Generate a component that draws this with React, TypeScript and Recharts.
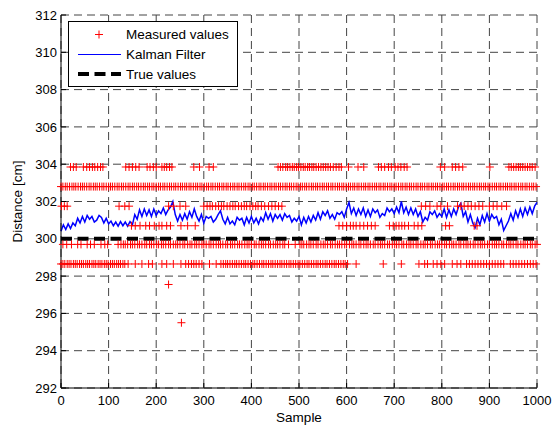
import { CartesianGrid, ComposedChart, Line, Scatter, XAxis, YAxis } from "recharts";

const FONT = '"Liberation Sans", Arial, Helvetica, sans-serif';

const xTicks = [0, 100, 200, 300, 400, 500, 600, 700, 800, 900, 1000];
const yTicks = [292, 294, 296, 298, 300, 302, 304, 306, 308, 310, 312];

// measured values are quantised, one list of sample numbers per level
const level303 = 303.85;
const samples303 = [
  20, 26, 32, 47, 54, 60, 66, 71, 77, 83, 88, 136, 143, 150, 157, 164, 181, 187, 194, 200, 212, 217,
  222, 228, 233, 279, 291, 311, 320, 456, 461, 466, 472, 476, 481, 486, 490, 495, 499, 504, 509, 513,
  518, 522, 527, 531, 536, 541, 546, 551, 556, 561, 566, 572, 578, 584, 589, 604, 624, 636, 667, 673,
  680, 688, 694, 702, 708, 714, 721, 727, 797, 806, 822, 829, 836, 844, 901, 941, 946, 951, 956, 961,
  965, 970, 975, 980, 985, 990, 996,
];

const level302 = 302.8;
const samples302 = [
  0, 4, 9, 13, 18, 23, 27, 31, 36, 41, 45, 49, 54, 59, 63, 68, 72, 76, 81, 86, 90, 95, 100, 104, 108,
  113, 118, 122, 127, 131, 136, 141, 145, 150, 154, 159, 163, 168, 173, 177, 182, 186, 191, 195, 200,
  205, 209, 214, 218, 223, 228, 232, 237, 241, 246, 251, 255, 260, 264, 269, 273, 278, 283, 287, 292,
  296, 301, 306, 310, 315, 319, 324, 329, 333, 338, 342, 347, 351, 356, 361, 365, 370, 374, 379, 384,
  388, 393, 397, 402, 406, 411, 416, 420, 425, 429, 434, 439, 443, 448, 452, 457, 461, 466, 471, 475,
  480, 484, 489, 494, 498, 503, 507, 512, 516, 521, 526, 530, 535, 539, 544, 549, 553, 558, 562, 567,
  571, 576, 581, 585, 590, 594, 599, 604, 608, 613, 617, 622, 626, 631, 636, 640, 645, 649, 654, 659,
  663, 668, 672, 677, 681, 686, 691, 695, 700, 704, 709, 714, 718, 723, 727, 732, 736, 741, 746, 750,
  755, 759, 764, 769, 773, 778, 782, 787, 791, 796, 801, 805, 810, 814, 819, 824, 828, 833, 837, 842,
  846, 851, 856, 860, 865, 869, 874, 879, 883, 888, 892, 897, 901, 906, 911, 915, 920, 924, 929, 934,
  938, 943, 947, 952, 956, 961, 966, 970, 975, 979, 984, 989, 993, 998,
];

const level301 = 301.75;
const samples301 = [
  1, 7, 13, 122, 134, 143, 226, 236, 250, 262, 300, 307, 313, 318, 325, 331, 337, 342, 349, 355, 361,
  366, 373, 379, 385, 390, 397, 403, 409, 414, 421, 428, 436, 443, 450, 457, 464, 757, 766, 775, 790,
  798, 812, 833, 840, 847, 855, 862, 870, 878, 886, 900, 908, 916, 926, 936,
];

const level300 = 300.7;
const samples300 = [
  148, 156, 166, 178, 186, 196, 206, 212, 222, 230, 252, 266, 282, 584, 592, 600, 608, 614, 620, 628,
  636, 644, 652, 660, 690, 698, 704, 710, 716, 722, 730, 742, 750, 758, 808, 816, 868, 874,
];

const level299 = 299.7;
const samples299 = [
  4, 12, 22, 35, 42, 55, 62, 70, 84, 92, 98, 120, 126, 131, 135, 140, 146, 150, 155, 161, 165, 170,
  176, 180, 186, 190, 195, 201, 205, 211, 215, 220, 226, 230, 236, 241, 245, 250, 256, 260, 266, 271,
  275, 281, 285, 290, 296, 300, 305, 311, 315, 320, 326, 331, 335, 340, 346, 350, 356, 360, 365, 371,
  375, 380, 386, 391, 395, 400, 406, 410, 416, 421, 425, 430, 436, 440, 446, 451, 455, 460, 466, 470,
  478, 492, 502, 506, 510, 516, 521, 525, 530, 536, 540, 546, 551, 555, 560, 566, 570, 576, 581, 585,
  590, 596, 600, 606, 611, 615, 620, 626, 630, 636, 641, 645, 650, 656, 660, 666, 671, 675, 680, 686,
  690, 696, 701, 705, 710, 716, 720, 726, 731, 735, 740, 746, 750, 756, 761, 765, 770, 776, 780, 786,
  791, 795, 800, 806, 810, 816, 821, 825, 830, 836, 840, 846, 851, 855, 860, 866, 870, 876, 881, 885,
  890, 896, 900, 906, 911, 915, 920, 926, 930, 936, 941, 945, 950, 956, 960, 966, 971, 975, 980, 986,
  990, 996, 1000,
];

const level298 = 298.65;
const samples298 = [
  0, 4, 8, 13, 17, 21, 26, 30, 34, 39, 43, 47, 52, 56, 60, 65, 69, 73, 78, 82, 86, 91, 95, 99, 104,
  108, 112, 117, 121, 125, 130, 134, 141, 156, 170, 184, 192, 212, 222, 236, 252, 262, 268, 274, 279,
  284, 290, 296, 312, 326, 336, 341, 346, 350, 355, 360, 365, 369, 374, 379, 384, 388, 393, 398, 403,
  407, 412, 417, 422, 426, 431, 436, 441, 445, 450, 455, 460, 464, 469, 474, 479, 483, 488, 493, 498,
  502, 507, 512, 517, 521, 526, 531, 536, 540, 545, 550, 555, 559, 564, 569, 574, 578, 583, 588, 593,
  597, 602, 620, 677, 715, 752, 764, 770, 782, 790, 798, 806, 822, 832, 840, 852, 858, 864, 870, 876,
  882, 888, 894, 900, 906, 912, 918, 924, 930, 944, 950, 956, 962, 968, 974, 980, 986, 992, 998,
];

const outlierSamples = [226, 253];
const outlierValues = [297.55, 295.5];

// Kalman estimate, read every 5 samples
const kalmanStep = 5;
const kalmanValues = [
  300.4, 300.75, 300.5, 300.8, 300.55, 300.85, 300.7, 301.1, 300.85, 301.2,
  300.9, 301.25, 301.05, 301.2, 300.9, 301.0, 301.25, 301.15, 300.85, 301.1,
  300.8, 300.95, 300.7, 300.9, 300.68, 300.92, 300.7, 300.9, 300.68, 300.92,
  300.75, 301.3, 301.05, 301.55, 301.2, 301.6, 301.25, 301.55, 301.2, 301.6,
  301.25, 301.5, 301.35, 301.65, 301.3, 301.55, 301.7, 302.0, 301.3, 300.95,
  301.3, 301.0, 301.35, 301.05, 301.45, 301.15, 301.6, 301.2, 300.95, 301.3,
  300.85, 301.2, 301.1, 301.2, 300.9, 301.05, 301.3, 301.5, 301.05, 300.8,
  301.15, 300.8, 300.95, 300.75, 301.15, 301.0, 301.1, 300.75, 301.15, 300.85,
  301.2, 300.85, 301.1, 300.8, 301.15, 300.95, 301.4, 301.05, 301.35, 300.95,
  301.3, 301.1, 301.3, 301.0, 301.35, 301.15, 301.25, 300.9, 301.1, 300.95,
  301.2, 300.75, 301.15, 300.85, 301.2, 300.9, 301.25, 301.0, 301.4, 301.05,
  301.45, 301.25, 301.5, 301.1, 301.3, 301.05, 301.4, 301.3, 301.45, 301.15,
  301.6, 301.95, 301.35, 301.65, 301.25, 301.6, 301.3, 301.65, 301.2, 301.55,
  301.2, 301.6, 301.4, 301.55, 301.15, 301.35, 301.25, 301.65, 301.45, 301.6,
  301.35, 301.7, 301.4, 302.0, 301.4, 301.7, 301.3, 301.65, 301.3, 301.6,
  301.2, 301.45, 300.9, 301.15, 301.0, 301.45, 301.3, 301.5, 301.15, 301.35,
  301.2, 301.6, 301.15, 301.55, 301.2, 301.6, 301.3, 301.7, 301.9, 301.2,
  301.45, 300.9, 301.3, 300.85, 300.6, 301.1, 300.75, 301.25, 300.9, 301.35,
  300.95, 301.3, 301.1, 301.2, 300.75, 301.05, 300.45, 300.7, 300.95, 301.35,
  301.0, 301.5, 301.15, 301.6, 301.2, 301.65, 301.3, 301.7, 301.35, 301.75,
  301.95,
];

const trueSamples = [0, 1000];
const trueValues = [300, 300];

const measuredRows: [number, number[]][] = [
  [level303, samples303],
  [level302, samples302],
  [level301, samples301],
  [level300, samples300],
  [level299, samples299],
  [level298, samples298],
];

const measuredData = [
  ...measuredRows.flatMap(([value, xs]) => xs.map((s) => ({ sample: s, distance: value }))),
  ...outlierSamples.map((s, i) => ({ sample: s, distance: outlierValues[i] })),
];
const kalmanData = kalmanValues.map((v, i) => ({ sample: i * kalmanStep, distance: v }));
const trueData = trueSamples.map((s, i) => ({ sample: s, distance: trueValues[i] }));

const PlusMarker = (props: any) => {
  const { cx, cy } = props;
  if (cx == null || cy == null) return null;
  return (
    <path
      d={`M${cx - 4},${cy}H${cx + 4}M${cx},${cy - 4}V${cy + 4}`}
      stroke="#ff0000"
      strokeWidth={1}
      fill="none"
    />
  );
};

const X_MARGIN = 8;
const Y_MARGIN = 4;
const TICK_LEN = 5;

const XTick = (props: any) => {
  const { x, y, payload } = props;
  const axisY = y - X_MARGIN;
  return (
    <g>
      <line x1={x} x2={x} y1={axisY} y2={axisY - TICK_LEN} stroke="#000" />
      <text x={x} y={y} dy="0.71em" textAnchor="middle" fontSize={13} fontFamily={FONT} fill="#000">
        {payload.value}
      </text>
    </g>
  );
};

const YTick = (props: any) => {
  const { x, y, payload } = props;
  const axisX = x + Y_MARGIN;
  return (
    <g>
      <line x1={axisX} x2={axisX + TICK_LEN} y1={y} y2={y} stroke="#000" />
      <text x={x} y={y} dy="0.355em" textAnchor="end" fontSize={13} fontFamily={FONT} fill="#000">
        {payload.value}
      </text>
    </g>
  );
};

function LegendBox() {
  const text = { fontSize: 13.5, fontFamily: FONT, fill: "#000" };
  return (
    <svg
      width={170}
      height={66}
      style={{ position: "absolute", left: 68, top: 21, background: "#fff", border: "1px solid #000", boxSizing: "border-box" }}
    >
      <path d="M26,12.5H34M30,8.5V16.5" stroke="#ff0000" strokeWidth={1} />
      <text x={57} y={12.5} dy="0.355em" {...text}>Measured values</text>
      <line x1={9} x2={52} y1={32.5} y2={32.5} stroke="#0000ff" strokeWidth={1} />
      <text x={57} y={32.5} dy="0.355em" {...text}>Kalman Filter</text>
      <line x1={9} x2={52} y1={52} y2={52} stroke="#000" strokeWidth={4} strokeDasharray="11 5.5" />
      <text x={57} y={52} dy="0.355em" {...text}>True values</text>
    </svg>
  );
}

export default function App() {
  return (
    <div style={{ position: "relative", width: 544, height: 420, padding: "8px 0 0 8px" }}>
      <style>{"html, body { margin: 0; overflow: hidden; }"}</style>
      <ComposedChart width={544} height={420} margin={{ top: 7, right: 15, bottom: 0, left: 0 }}>
        <CartesianGrid stroke="#444" strokeDasharray="8 5" />
        <XAxis
          dataKey="sample"
          type="number"
          domain={[0, 1000]}
          ticks={xTicks}
          interval={0}
          height={40}
          tickSize={0}
          tickMargin={X_MARGIN}
          tick={XTick}
          axisLine={{ stroke: "#000" }}
          label={{ value: "Sample", position: "insideBottom", offset: 6, fontSize: 13.5, fontFamily: FONT, fill: "#000" }}
        />
        <YAxis
          dataKey="distance"
          type="number"
          domain={[292, 312]}
          ticks={yTicks}
          interval={0}
          width={53}
          tickSize={0}
          tickMargin={Y_MARGIN}
          tick={YTick}
          axisLine={{ stroke: "#000" }}
          label={{
            value: "Distance [cm]",
            angle: -90,
            position: "insideLeft",
            offset: 9,
            fontSize: 13.5,
            fontFamily: FONT,
            fill: "#000",
            style: { textAnchor: "middle" },
          }}
        />
        <Scatter name="Measured values" data={measuredData} dataKey="distance" shape={PlusMarker} isAnimationActive={false} />
        <Line
          name="Kalman Filter"
          data={kalmanData}
          dataKey="distance"
          stroke="#0000ff"
          strokeWidth={1.5}
          dot={false}
          isAnimationActive={false}
        />
        <Line
          name="True values"
          data={trueData}
          dataKey="distance"
          stroke="#000"
          strokeWidth={4}
          strokeDasharray="11 5.5"
          dot={false}
          isAnimationActive={false}
        />
      </ComposedChart>
      <LegendBox />
    </div>
  );
}
